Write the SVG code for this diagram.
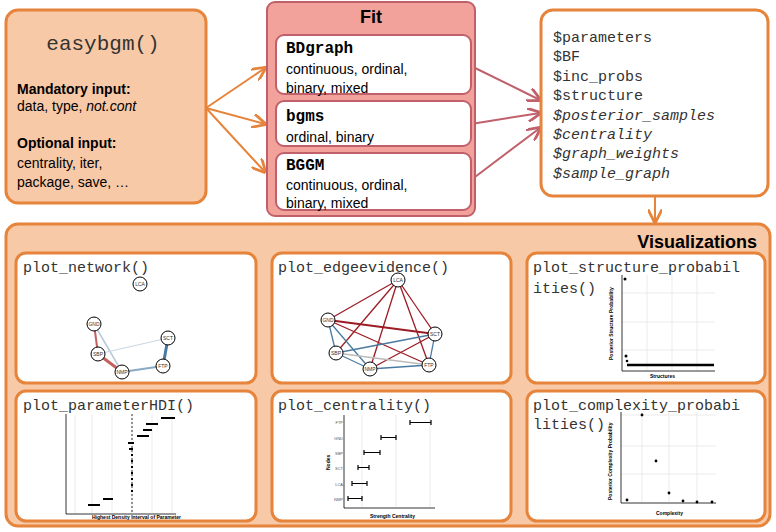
<svg xmlns="http://www.w3.org/2000/svg" width="776" height="532" viewBox="0 0 776 532">
<defs>
<style>
.sans{font-family:"Liberation Sans",Arial,sans-serif}
.mono{font-family:"Liberation Mono","Courier New",monospace}
.ob{fill:#f8c9a7;stroke:#e5843a;stroke-width:3}
.panel{fill:#fff;stroke:#e5843a;stroke-width:3}
.inner{fill:#fff;stroke:#c0606a;stroke-width:2}
.nd{fill:#fff;stroke:#000;stroke-width:1}
.nl{font-family:"Liberation Sans",Arial,sans-serif;font-size:5px;text-anchor:middle;fill:#333}
.ax{stroke:#000;stroke-width:0.8;fill:none}
.gr{stroke:#e6e6e6;stroke-width:0.8}
.tiny{font-family:"Liberation Sans",Arial,sans-serif;font-size:4px;fill:#555}
.axl{font-family:"Liberation Sans",Arial,sans-serif;font-size:5px;font-weight:bold;fill:#000}
</style>
<marker id="ao" viewBox="0 0 10 10" refX="9" refY="5" markerWidth="7" markerHeight="7" orient="auto"><path d="M0,0L10,5L0,10" fill="none" stroke="#e5843a" stroke-width="2"/></marker>
<marker id="ar" viewBox="0 0 10 10" refX="9" refY="5" markerWidth="7" markerHeight="7" orient="auto"><path d="M0,0L10,5L0,10" fill="none" stroke="#c0606a" stroke-width="2"/></marker>
</defs>

<g id="connectors" fill="none" stroke-width="2">
<line x1="206" y1="108" x2="265" y2="68" stroke="#e5843a" marker-end="url(#ao)"/>
<line x1="206" y1="108" x2="265" y2="124" stroke="#e5843a" marker-end="url(#ao)"/>
<line x1="206" y1="108" x2="265" y2="172" stroke="#e5843a" marker-end="url(#ao)"/>
<line x1="471" y1="66" x2="540" y2="100" stroke="#c0606a" marker-end="url(#ar)"/>
<line x1="471" y1="124" x2="540" y2="113" stroke="#c0606a" marker-end="url(#ar)"/>
<line x1="471" y1="180" x2="540" y2="128" stroke="#c0606a" marker-end="url(#ar)"/>
<line x1="655" y1="197" x2="655" y2="222" stroke="#e5843a" marker-end="url(#ao)"/>
</g>

<g id="easybgm">
<rect class="ob" x="6" y="10" width="200" height="193" rx="12"/>
<text class="mono" x="103" y="50" font-size="21" text-anchor="middle" fill="#333">easybgm()</text>
<text class="sans" x="17" y="94" font-size="14" font-weight="bold">Mandatory input:</text>
<text class="sans" x="17" y="111" font-size="14">data, type, <tspan font-style="italic">not.cont</tspan></text>
<text class="sans" x="17" y="148" font-size="14" font-weight="bold">Optional input:</text>
<text class="sans" x="17" y="168" font-size="14">centrality, iter,</text>
<text class="sans" x="17" y="187" font-size="14">package, save, …</text>
</g>

<g id="fit">
<rect x="267" y="2" width="208" height="214" rx="8" fill="#f2a29b" stroke="#c0606a" stroke-width="2"/>
<text class="sans" x="371" y="23" font-size="18" font-weight="bold" text-anchor="middle">Fit</text>
<g id="bdgraph"><rect class="inner" x="276" y="35" width="195" height="59" rx="8"/>
<text class="mono" x="286" y="53" font-size="16" font-weight="bold">BDgraph</text>
<text class="sans" x="286" y="74" font-size="14">continuous, ordinal,</text>
<text class="sans" x="286" y="93" font-size="14">binary, mixed</text></g>
<g id="bgms"><rect class="inner" x="276" y="101" width="195" height="45" rx="8"/>
<text class="mono" x="286" y="121" font-size="16" font-weight="bold">bgms</text>
<text class="sans" x="286" y="142" font-size="14">ordinal, binary</text></g>
<g id="bggm"><rect class="inner" x="276" y="153" width="195" height="57" rx="8"/>
<text class="mono" x="286" y="170" font-size="16" font-weight="bold">BGGM</text>
<text class="sans" x="286" y="190" font-size="14">continuous, ordinal,</text>
<text class="sans" x="286" y="208" font-size="14">binary, mixed</text></g>
</g>

<g id="output" class="mono" font-size="15" fill="#333">
<rect x="541" y="10" width="227" height="186" rx="12" fill="#fff" stroke="#e5843a" stroke-width="3"/>
<text x="553" y="42">$parameters</text>
<text x="553" y="61">$BF</text>
<text x="553" y="81">$inc_probs</text>
<text x="553" y="100">$structure</text>
<text x="553" y="120" font-style="italic">$posterior_samples</text>
<text x="553" y="139" font-style="italic">$centrality</text>
<text x="553" y="158" font-style="italic">$graph_weights</text>
<text x="553" y="178" font-style="italic">$sample_graph</text>
</g>

<g id="visualizations">
<rect class="ob" x="6" y="224" width="764" height="302" rx="12"/>
<text class="sans" x="757" y="248" font-size="18" font-weight="bold" text-anchor="end">Visualizations</text>
</g>

<g id="p_network">
<rect class="panel" x="16" y="253" width="240" height="130" rx="10"/>
<text class="mono" x="23" y="272" font-size="15" fill="#333">plot_network()</text>
<g fill="none">
<line x1="94" y1="324" x2="98" y2="354" stroke="#c46060" stroke-width="2"/>
<line x1="98" y1="354" x2="122" y2="372" stroke="#c46060" stroke-width="3"/>
<line x1="94" y1="324" x2="122" y2="372" stroke="#b8c8d8" stroke-width="1.5"/>
<line x1="98" y1="354" x2="168" y2="338" stroke="#c8d6e2" stroke-width="1"/>
<line x1="168" y1="338" x2="163" y2="366" stroke="#4a7aa0" stroke-width="3"/>
<line x1="122" y1="372" x2="163" y2="366" stroke="#8aaac4" stroke-width="2"/>
</g>
<circle class="nd" cx="140" cy="284" r="7"/><text class="nl" x="140" y="286">LCA</text>
<circle class="nd" cx="94" cy="324" r="7"/><text class="nl" x="94" y="326">GND</text>
<circle class="nd" cx="168" cy="338" r="7"/><text class="nl" x="168" y="340">SCT</text>
<circle class="nd" cx="98" cy="354" r="7"/><text class="nl" x="98" y="356">SBP</text>
<circle class="nd" cx="122" cy="372" r="7"/><text class="nl" x="122" y="374">NMP</text>
<circle class="nd" cx="163" cy="366" r="7"/><text class="nl" x="163" y="368">FTP</text>
</g>

<g id="p_edgeevidence">
<rect class="panel" x="272" y="253" width="239" height="130" rx="10"/>
<text class="mono" x="278" y="272" font-size="15" fill="#333">plot_edgeevidence()</text>
<g stroke-width="1.3" fill="none">
<g stroke="#9b1c24">
<line x1="398" y1="280" x2="328" y2="320"/><line x1="398" y1="280" x2="336" y2="353"/><line x1="398" y1="280" x2="370" y2="369"/>
<line x1="398" y1="280" x2="435" y2="334"/><line x1="398" y1="280" x2="429" y2="365"/>
<line x1="328" y1="320" x2="435" y2="334" stroke-width="1.8"/><line x1="328" y1="320" x2="429" y2="365"/>
<line x1="336" y1="353" x2="435" y2="334" stroke="#9b1c24" opacity="0"/>
<line x1="370" y1="369" x2="435" y2="334"/>
</g>
<g stroke="#4a7aa0">
<line x1="328" y1="320" x2="336" y2="353"/><line x1="328" y1="320" x2="370" y2="369"/>
<line x1="336" y1="353" x2="435" y2="334"/><line x1="336" y1="353" x2="370" y2="369"/>
<line x1="370" y1="369" x2="429" y2="365"/><line x1="435" y1="334" x2="429" y2="365"/>
</g>
<line x1="336" y1="353" x2="429" y2="365" stroke="#bbb"/>
</g>
<circle class="nd" cx="398" cy="280" r="7"/><text class="nl" x="398" y="282">LCA</text>
<circle class="nd" cx="328" cy="320" r="7"/><text class="nl" x="328" y="322">GND</text>
<circle class="nd" cx="435" cy="334" r="7"/><text class="nl" x="435" y="336">SCT</text>
<circle class="nd" cx="336" cy="353" r="7"/><text class="nl" x="336" y="355">SBP</text>
<circle class="nd" cx="370" cy="369" r="7"/><text class="nl" x="370" y="371">NMP</text>
<circle class="nd" cx="429" cy="365" r="7"/><text class="nl" x="429" y="367">FTP</text>
</g>

<g id="p_structure">
<rect class="panel" x="527" y="253" width="238" height="130" rx="10"/>
<text class="mono" x="533" y="272" font-size="15" fill="#333">plot_structure_probabil</text>
<text class="mono" x="533" y="293" font-size="15" fill="#333">ities()</text>
<line class="gr" x1="622" y1="293" x2="715" y2="293"/><line class="gr" x1="622" y1="322" x2="715" y2="322"/><line class="gr" x1="622" y1="350" x2="715" y2="350"/>
<line class="gr" x1="647" y1="275" x2="647" y2="370"/><line class="gr" x1="672" y1="275" x2="672" y2="370"/><line class="gr" x1="697" y1="275" x2="697" y2="370"/>
<path class="ax" d="M622,275V371H715"/>
<circle cx="625" cy="279" r="1.5"/><circle cx="626" cy="356" r="1.5"/><circle cx="627" cy="361" r="1.3"/>
<line x1="627" y1="365" x2="714" y2="365" stroke="#000" stroke-width="2.5"/>
<text class="axl" x="650" y="378">Structures</text>
<text class="axl" transform="translate(613,360) rotate(-90)">Posterior Structure Probability</text>
</g>

<g id="p_hdi">
<rect class="panel" x="16" y="391" width="240" height="130" rx="10"/>
<text class="mono" x="23" y="410" font-size="15" fill="#333">plot_parameterHDI()</text>
<g class="gr"><line x1="75" y1="415" x2="75" y2="513"/><line x1="92" y1="415" x2="92" y2="513"/><line x1="112" y1="415" x2="112" y2="513"/><line x1="132" y1="415" x2="132" y2="513"/><line x1="152" y1="415" x2="152" y2="513"/><line x1="172" y1="415" x2="172" y2="513"/></g>
<path class="ax" d="M66,414V514H176"/>
<line x1="132" y1="414" x2="132" y2="514" stroke="#000" stroke-dasharray="2,2" stroke-width="0.8"/>
<g stroke="#000" stroke-width="2">
<line x1="161" y1="418" x2="175" y2="418"/><line x1="146" y1="424" x2="158" y2="424"/><line x1="143" y1="430" x2="152" y2="430"/>
<line x1="137" y1="436" x2="149" y2="436"/><line x1="128" y1="443" x2="134" y2="443"/><line x1="129" y1="449" x2="133" y2="449"/>
<line x1="131" y1="455" x2="133" y2="455"/><line x1="131" y1="461" x2="133" y2="461"/><line x1="131" y1="467" x2="133" y2="467"/>
<line x1="131" y1="473" x2="133" y2="473"/><line x1="131" y1="479" x2="133" y2="479"/><line x1="131" y1="485" x2="133" y2="485"/>
<line x1="131" y1="491" x2="133" y2="491"/><line x1="103" y1="499" x2="113" y2="499"/><line x1="88" y1="505" x2="100" y2="505"/>
</g>
<text class="axl" x="92" y="519" font-size="4.5">Highest Density Interval of Parameter</text>
</g>

<g id="p_centrality">
<rect class="panel" x="272" y="391" width="239" height="130" rx="10"/>
<text class="mono" x="278" y="410" font-size="15" fill="#333">plot_centrality()</text>
<g class="gr"><line x1="362" y1="415" x2="362" y2="507"/><line x1="396" y1="415" x2="396" y2="507"/><line x1="430" y1="415" x2="430" y2="507"/></g>
<path class="ax" d="M344,415V508H435"/>
<g class="tiny" text-anchor="end"><text x="343" y="424">FTP</text><text x="343" y="440">GND</text><text x="343" y="455">SBP</text><text x="343" y="470">SCT</text><text x="343" y="486">LCA</text><text x="343" y="501">NMP</text></g>
<g stroke="#000" stroke-width="1.2" fill="none">
<path d="M410,420V425M410,422.5H431M431,420V425"/><path d="M381,435V440M381,437.5H396M396,435V440"/>
<path d="M364,450V455M364,452.5H380M380,450V455"/><path d="M358,465V470M358,467.5H369M369,465V470"/>
<path d="M352,481V486M352,483.5H367M367,481V486"/><path d="M348,496V501M348,498.5H362M362,496V501"/>
</g>
<text class="axl" x="370" y="518">Strength Centrality</text>
<text class="axl" transform="translate(330,470) rotate(-90)">Nodes</text>
</g>

<g id="p_complexity">
<rect class="panel" x="527" y="391" width="238" height="130" rx="10"/>
<text class="mono" x="533" y="410" font-size="15" fill="#333">plot_complexity_probabi</text>
<text class="mono" x="533" y="429" font-size="15" fill="#333">lities()</text>
<g class="gr"><line x1="621" y1="415" x2="716" y2="415"/><line x1="621" y1="446" x2="716" y2="446"/><line x1="621" y1="474" x2="716" y2="474"/><line x1="642" y1="412" x2="642" y2="502"/><line x1="669" y1="412" x2="669" y2="502"/><line x1="697" y1="412" x2="697" y2="502"/></g>
<path class="ax" d="M621,412V503H716"/>
<g fill="#000"><circle cx="627" cy="500" r="1.4"/><circle cx="642" cy="415" r="1.4"/><circle cx="656" cy="461" r="1.4"/><circle cx="669" cy="493" r="1.4"/><circle cx="683" cy="501" r="1.4"/><circle cx="697" cy="502" r="1.4"/><circle cx="712" cy="502" r="1.4"/></g>
<text class="axl" x="656" y="515">Complexity</text>
<text class="axl" transform="translate(612,500) rotate(-90)">Posterior Complexity Probability</text>
</g>
</svg>
